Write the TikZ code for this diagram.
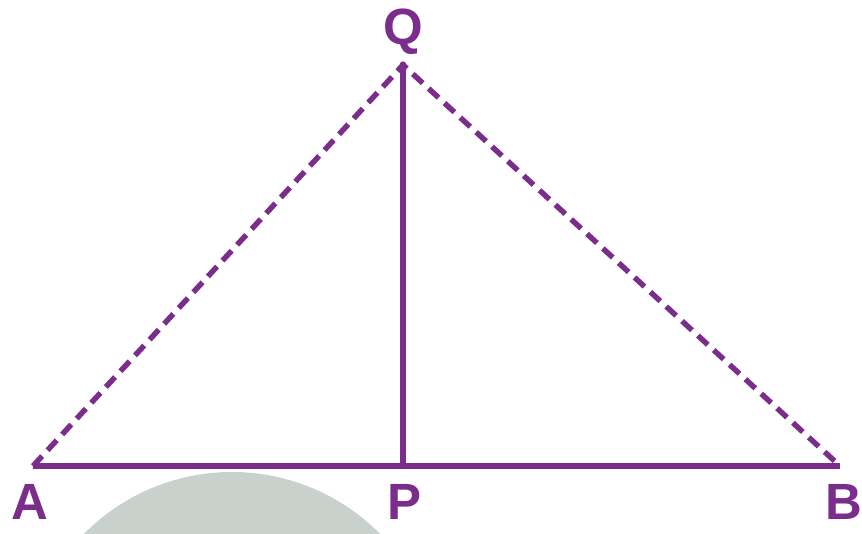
\documentclass[tikz,border=0pt]{standalone}
\usepackage{fontspec}
\setmainfont{Liberation Sans}

\definecolor{figpurple}{HTML}{7B2D8B}
\definecolor{discgrey}{HTML}{C9D1CD}

\begin{document}
\begin{tikzpicture}[
  x=0.02cm, y=-0.02cm,
  side/.style={draw=figpurple, line width=3.1pt},
  slant/.style={side, dash pattern=on 0.27cm off 0.16cm},
  pointlabel/.style={
    text=figpurple,
    font=\fontsize{29}{32}\selectfont\bfseries,
    inner sep=0pt
  }
]
  \useasboundingbox (0,0) rectangle (862,534);
  \begin{scope}
    \clip (0,0) rectangle (862,534);
    \fill[discgrey] (232,680) circle[radius=208];
  \end{scope}

  \coordinate (A) at (33,466);
  \coordinate (P) at (403,466);
  \coordinate (B) at (840,466);
  \coordinate (Q) at (403,65);

  \draw[slant] (A) -- (Q) -- (B);
  \draw[side] (A) -- (B);
  \draw[side] (P) -- (Q);
  \fill[figpurple] (Q) circle[radius=3.5];

  \node[pointlabel] (labelQ) at (403,32) {Q};
  \node[pointlabel] (labelA) at (30,502) {A};
  \node[pointlabel] (labelP) at (404,502) {P};
  \node[pointlabel] (labelB) at (844,502) {B};
\end{tikzpicture}
\end{document}
